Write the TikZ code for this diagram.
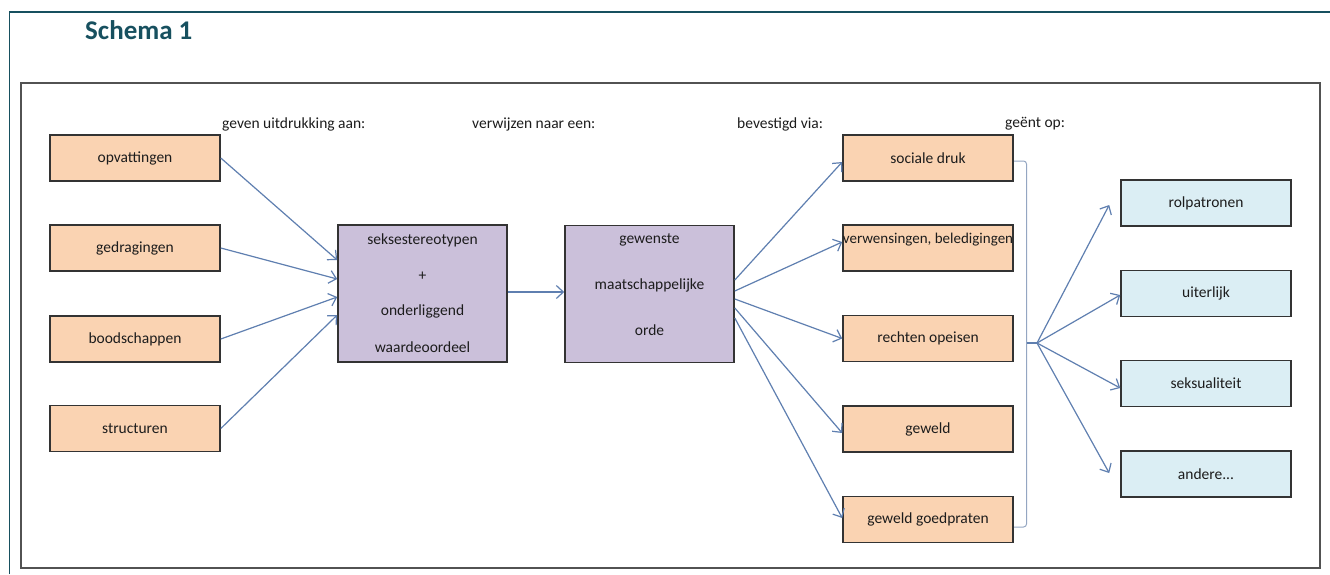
\documentclass[tikz,border=0pt]{standalone}
\usepackage{fontspec}
\setmainfont{Carlito}
\usetikzlibrary{arrows.meta}
\definecolor{teal1}{HTML}{17505F}
\definecolor{peach}{HTML}{FAD3B2}
\definecolor{lilac}{HTML}{CBC0DA}
\definecolor{paleblue}{HTML}{DBEEF4}
\definecolor{arrowc}{HTML}{5F7FB0}
\definecolor{brackc}{HTML}{94A6C2}
\definecolor{boxline}{HTML}{333333}
\definecolor{txt}{HTML}{1C1C1C}
\tikzset{
  box/.style={draw=boxline, line width=1.6pt, minimum width=170pt, minimum height=46pt, inner sep=0pt, font=\fontsize{15.5}{18}\selectfont, text=txt},
  obox/.style={box, fill=peach},
  bbox/.style={box, fill=paleblue},
  pbox/.style={draw=boxline, line width=1.6pt, fill=lilac, minimum width=169pt, minimum height=137pt},
  ptext/.style={font=\fontsize{15.5}{18}\selectfont, text=txt},
  lbl/.style={anchor=west, font=\fontsize{15.5}{18}\selectfont, text=txt, inner sep=0pt},
  arr/.style={draw=arrowc, line width=1.2pt, -{Straight Barb[length=7pt,width=13pt]}},
}
\begin{document}
\begin{tikzpicture}[x=1pt,y=-1pt]
\useasboundingbox (0,0) rectangle (1330,574);
\fill[white] (0,0) rectangle (1330,574);
% outer frame
\draw[teal1, line width=1.2pt] (9.5,574) -- (9.5,12) -- (1330,12);
\node[anchor=west, inner sep=0pt, text=teal1, font=\fontsize{27}{31}\selectfont\bfseries] (title) at (85,30) {Schema 1};
% inner frame
\draw[draw=boxline!85, line width=1.6pt] (21,83) rectangle (1320,568);
% labels
\node[lbl] (l1) at (222,124) {geven uitdrukking aan:};
\node[lbl] (l2) at (472,124) {verwijzen naar een:};
\node[lbl] (l3) at (737,124) {bevestigd via:};
\node[lbl] (l4) at (1005,124) {geënt op:};
% left boxes
\node[obox] (a1) at (135,158) {opvattingen};
\node[obox] (a2) at (135,248) {gedragingen};
\node[obox] (a3) at (135,339) {boodschappen};
\node[obox] (a4) at (135,428.5) {structuren};
% purple boxes
\node[pbox] (p1) at (422.5,293.5) {};
\node[ptext] (p1a) at (422.5,240) {seksestereotypen};
\node[ptext] (p1b) at (422.5,276) {+};
\node[ptext] (p1c) at (422.5,311) {onderliggend};
\node[ptext] (p1d) at (422.5,347) {waardeoordeel};
\node[pbox] (p2) at (649.5,294) {};
\node[ptext] (p2a) at (649.5,240) {gewenste};
\node[ptext] (p2b) at (649.5,285) {maatschappelijke};
\node[ptext] (p2c) at (649.5,330) {orde};
% right orange boxes
\node[obox] (b1) at (928,158) {sociale druk};
\node[obox] (b2) at (928,248) {};
\node[inner sep=0pt, text=txt, font=\fontsize{15}{18}\selectfont] (b2t) at (928,240) {verwensingen, beledigingen};
\node[obox] (b3) at (928,338.5) {rechten opeisen};
\node[obox] (b4) at (928,429) {geweld};
\node[obox] (b5) at (928,519.5) {geweld goedpraten};
% blue boxes
\node[bbox] (c1) at (1206,203) {rolpatronen};
\node[bbox] (c2) at (1206,293.5) {uiterlijk};
\node[bbox] (c3) at (1206,383.5) {seksualiteit};
\node[bbox] (c4) at (1206,474) {andere...};
% arrows left
\draw[arr] (a1.east) -- ([shift={(0,-33.5)}]p1.west);
\draw[arr] (a2.east) -- ([shift={(0,-14.5)}]p1.west);
\draw[arr] (a3.east) -- ([shift={(0,3.5)}]p1.west);
\draw[arr] (a4.east) -- ([shift={(0,21.5)}]p1.west);
\draw[arr] ([shift={(0,-1.5)}]p1.east) -- ([shift={(0,-2)}]p2.west);
% arrows middle
\draw[arr] ([shift={(0,-14)}]p2.east) -- ([shift={(0,4)}]b1.west);
\draw[arr] ([shift={(0,-3)}]p2.east) -- ([shift={(0,-6)}]b2.west);
\draw[arr] ([shift={(0,5)}]p2.east) -- (b3.west);
\draw[arr] ([shift={(0,14)}]p2.east) -- ([shift={(0,4)}]b4.west);
\draw[arr] ([shift={(0,24)}]p2.east) -- ([shift={(0,-1.5)}]b5.west);
% bracket
\coordinate (br1) at (1014,161);
\coordinate (br2) at (1014,527);
\coordinate (fan) at (1037,343);
\draw[brackc, line width=1pt, rounded corners=3pt] (br1) -- (1026.5,161) -- (1026.5,527) -- (br2);
\draw[arrowc, line width=1.2pt] (1026.5,343) -- (fan);
% fan arrows
\draw[arr] (fan) -- ([shift={(-11,2)}]c1.west);
\draw[arr] (fan) -- ([shift={(0,1.5)}]c2.west);
\draw[arr] (fan) -- ([shift={(0,4.5)}]c3.west);
\draw[arr] (fan) -- ([shift={(-11,-1)}]c4.west);
\end{tikzpicture}
\end{document}
